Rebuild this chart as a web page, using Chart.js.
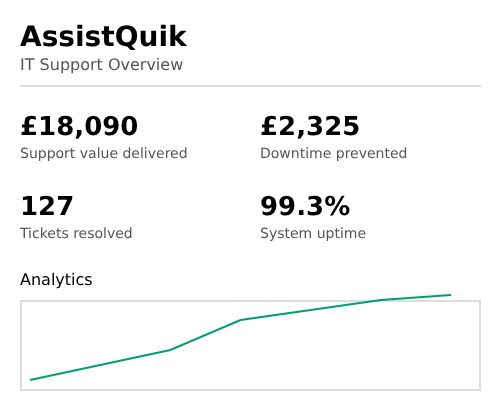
<!DOCTYPE html>
<html><head><meta charset="utf-8">
<script src="https://cdn.jsdelivr.net/npm/chart.js@4"></script>
<style>
html,body{margin:0;padding:0;background:#fff;width:500px;height:420px;overflow:hidden;font-family:"DejaVu Sans",sans-serif}
body{text-rendering:geometricPrecision;-webkit-font-smoothing:antialiased}
.t{position:absolute;white-space:nowrap;line-height:1;opacity:.999;will-change:opacity}
#box{position:absolute;left:20px;top:300px;width:457px;height:87px;border:2px solid #ddd}
#rule{position:absolute;left:20px;top:85px;width:461px;height:2px;background:#ddd}
#wrap{position:absolute;left:20px;top:290px;width:461px;height:100px}
</style></head><body>
<div class="t" style="left:20px;top:23px;font-size:28px;font-weight:bold;color:#000">AssistQuik</div>
<div class="t" style="left:20px;top:57px;font-size:16px;color:#555">IT Support Overview</div>
<div id="rule"></div>
<div class="t" style="left:20px;top:114px;font-size:26px;font-weight:bold;color:#000">£18,090</div>
<div class="t" style="left:20px;top:147px;font-size:14px;color:#555">Support value delivered</div>
<div class="t" style="left:260px;top:114px;font-size:26px;font-weight:bold;color:#000">£2,325</div>
<div class="t" style="left:260px;top:147px;font-size:14px;color:#555">Downtime prevented</div>
<div class="t" style="left:20px;top:194px;font-size:26px;font-weight:bold;color:#000">127</div>
<div class="t" style="left:20px;top:227px;font-size:14px;color:#555">Tickets resolved</div>
<div class="t" style="left:260px;top:194px;font-size:26px;font-weight:bold;color:#000">99.3%</div>
<div class="t" style="left:260px;top:227px;font-size:14px;color:#555">System uptime</div>
<div class="t" style="left:20px;top:272px;font-size:16px;color:#000">Analytics</div>
<div id="box"></div>
<div id="wrap"><canvas id="c" width="461" height="100"></canvas></div>
<script>
const categories = ["1","2","3","4","5","6","7"];
const seriesValues = [10,25,40,70,80,90,95];
const yTicks = {min:0,max:100};
new Chart(document.getElementById('c'),{
  type:'line',
  data:{labels:categories,datasets:[{data:seriesValues,borderColor:'#009E73',borderWidth:2,pointRadius:0,tension:0,fill:false,clip:false}]},
  options:{
    responsive:false,animation:false,devicePixelRatio:1,
    layout:{padding:{left:10,right:30,top:0,bottom:0}},
    plugins:{legend:{display:false},tooltip:{enabled:false}},
    scales:{
      x:{display:false,offset:false},
      y:{display:false,min:yTicks.min,max:yTicks.max}
    }
  }
});
</script>
</body></html>
